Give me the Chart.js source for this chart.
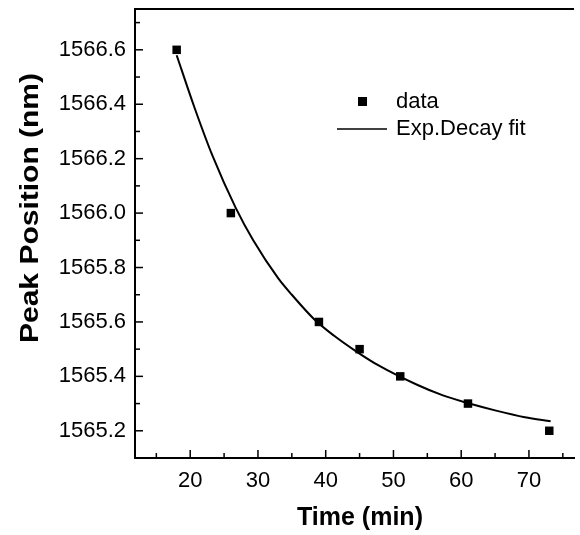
<!DOCTYPE html>
<html>
<head>
<meta charset="utf-8">
<script src="https://cdn.jsdelivr.net/npm/chart.js@4.4.0/dist/chart.umd.min.js"></script>
<style>
  body { margin: 0; background: #fff; }
  #wrap { width: 580px; height: 535px; position: relative; }
</style>
</head>
<body>
<div id="wrap"><canvas id="chart"></canvas></div>
<script>
// measured points
const timeMin = [18, 26, 39, 45, 51, 61, 73];
const peakNm = [1566.6, 1566.0, 1565.6, 1565.5, 1565.4, 1565.3, 1565.2];

// fit curve
const fitTime = [18, 20.6, 23.3, 26.7, 29.3, 33, 35, 38.3, 41.2, 44.6, 47.8, 53.4, 57.3, 61.2, 65, 69.4, 73.2];
const fitPeak = [1566.58, 1566.39, 1566.21, 1566.02, 1565.90, 1565.76, 1565.70, 1565.61, 1565.55, 1565.49, 1565.44, 1565.37, 1565.33, 1565.30, 1565.275, 1565.25, 1565.235];

const xTicks = [20, 30, 40, 50, 60, 70];
const xMinor = [15, 25, 35, 45, 55, 65, 75];
const yTicks = [1565.2, 1565.4, 1565.6, 1565.8, 1566.0, 1566.2, 1566.4, 1566.6];
const yMinor = [1565.3, 1565.5, 1565.7, 1565.9, 1566.1, 1566.3, 1566.5, 1566.7];

const FONT = '"Liberation Sans", Arial, sans-serif';

const dataPts = timeMin.map((t, i) => ({x: t, y: peakNm[i]}));
const fitPts = fitTime.map((t, i) => ({x: t, y: fitPeak[i]}));

// inward tick marks, top frame line, legend and axis titles
const decor = {
  id: 'decor',
  afterDraw(chart) {
    const ctx = chart.ctx;
    const xs = chart.scales.x, ys = chart.scales.y;
    const a = chart.chartArea;
    ctx.save();
    ctx.strokeStyle = '#000';
    ctx.lineWidth = 2;
    ctx.beginPath();
    ctx.moveTo(a.left, a.top);
    ctx.lineTo(a.right, a.top);
    ctx.stroke();

    ctx.lineWidth = 1.5;
    const tick = (px, py, dx, dy) => {
      ctx.beginPath();
      ctx.moveTo(px, py);
      ctx.lineTo(px + dx, py + dy);
      ctx.stroke();
    };
    xTicks.forEach(v => tick(xs.getPixelForValue(v), a.bottom, 0, -8));
    xMinor.forEach(v => tick(xs.getPixelForValue(v), a.bottom, 0, -5));
    yTicks.forEach(v => tick(a.left, ys.getPixelForValue(v), 8, 0));
    yMinor.forEach(v => tick(a.left, ys.getPixelForValue(v), 5, 0));

    // legend
    ctx.fillStyle = '#000';
    ctx.fillRect(358, 97, 9, 9);
    ctx.lineWidth = 1.5;
    ctx.beginPath();
    ctx.moveTo(337, 129);
    ctx.lineTo(387, 129);
    ctx.stroke();
    ctx.font = '22px ' + FONT;
    ctx.textAlign = 'left';
    ctx.textBaseline = 'middle';
    ctx.fillText('data', 396, 102);
    ctx.fillText('Exp.Decay fit', 396, 129);

    // axis titles
    ctx.font = 'bold 25px ' + FONT;
    ctx.textAlign = 'center';
    ctx.fillText('Time (min)', 360, 518);
    ctx.translate(31, 208);
    ctx.rotate(-Math.PI / 2);
    // the y title in the scan is stretched along its length
    ctx.scale(1.2, 1);
    ctx.fillText('Peak Position (nm)', 0, 0);
    ctx.restore();
  }
};

new Chart(document.getElementById('chart'), {
  type: 'scatter',
  data: {
    datasets: [
      {
        label: 'Exp.Decay fit',
        data: fitPts,
        showLine: true,
        borderColor: '#000',
        borderWidth: 2,
        pointRadius: 0,
        cubicInterpolationMode: 'monotone'
      },
      {
        label: 'data',
        data: dataPts,
        pointStyle: 'rect',
        pointRadius: 6,
        backgroundColor: '#000',
        borderColor: '#000',
        borderWidth: 0
      }
    ]
  },
  options: {
    responsive: true,
    maintainAspectRatio: false,
    animation: false,
    layout: { padding: { top: 9, left: 0, right: 0, bottom: 0 } },
    plugins: { legend: { display: false }, tooltip: { enabled: false } },
    scales: {
      x: {
        min: 11.85,
        max: 76.65,
        afterFit(s) {
          s.height = 77;
          s.paddingLeft = 0;
          s.paddingRight = 0;
        },
        afterBuildTicks(s) { s.ticks = xTicks.map(v => ({value: v})); },
        grid: { display: false, drawTicks: false },
        border: { display: true, color: '#000', width: 2 },
        ticks: { color: '#000', padding: 10, maxRotation: 0, font: { family: FONT, size: 22 } }
      },
      y: {
        min: 1565.1,
        max: 1566.75,
        afterFit(s) {
          s.width = 135;
          // no extra room for half tick labels, the frame sits right under the padding
          s.paddingTop = 0;
          s.paddingBottom = 0;
        },
        afterBuildTicks(s) { s.ticks = yTicks.map(v => ({value: v})); },
        grid: { display: false, drawTicks: false },
        border: { display: true, color: '#000', width: 2 },
        ticks: {
          color: '#000',
          padding: 9,
          font: { family: FONT, size: 22 },
          callback: v => v.toFixed(1)
        }
      }
    }
  },
  plugins: [decor]
});
</script>
</body>
</html>
